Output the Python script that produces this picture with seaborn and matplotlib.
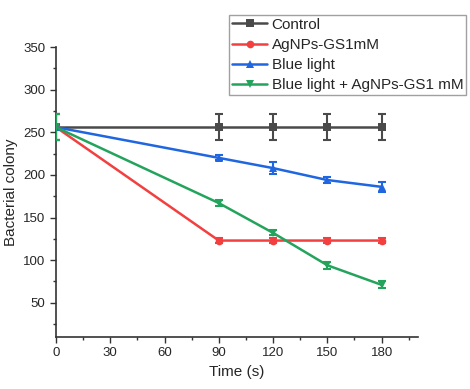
import seaborn as sns
import matplotlib.pyplot as plt
import pandas as pd
import numpy as np
from matplotlib.ticker import MultipleLocator

time = [0, 90, 120, 150, 180]
control = [256, 256, 256, 256, 256]
control_err = [15, 15, 15, 15, 15]
agnps = [256, 123, 123, 123, 123]
agnps_err = [15, 3, 3, 3, 3]
blue = [256, 220, 208, 194, 186]
blue_err = [15, 3, 7, 4, 6]
combo = [256, 167, 132, 94, 71]
combo_err = [15, 3, 3, 4, 4]

labels = ["Control", "AgNPs-GS1mM", "Blue light", "Blue light + AgNPs-GS1 mM"]
colors = ["#4a4a4a", "#f24040", "#1f66e0", "#24a35c"]
markers = ["s", "o", "^", "v"]

rows = []
for lab, vals, errs in zip(labels, [control, agnps, blue, combo],
                           [control_err, agnps_err, blue_err, combo_err]):
    for t, v, e in zip(time, vals, errs):
        rows.append({"time": t, "value": v, "err": e, "group": lab})
df = pd.DataFrame(rows)

sns.set_theme(style="ticks")
plt.rcParams["font.family"] = ["Liberation Sans", "DejaVu Sans"]

fig = plt.figure(figsize=(4.7, 3.89), dpi=100)
ax = fig.add_axes([0.119, 0.134, 0.77, 0.745])

sns.lineplot(data=df, x="time", y="value", hue="group", style="group",
             palette=colors, markers=markers, dashes=False, linewidth=1.8,
             markersize=5.5, markeredgewidth=0, ax=ax, legend=True)
for lab, c in zip(labels, colors):
    d = df[df.group == lab]
    ax.errorbar(d.time, d.value, yerr=d.err, fmt="none", ecolor=c,
                elinewidth=1.5, capsize=3, capthick=1.5, zorder=3)

ax.set_xlim(0, 200)
ax.set_ylim(10, 350)
ax.set_xticks([0, 30, 60, 90, 120, 150, 180])
ax.set_yticks([50, 100, 150, 200, 250, 300, 350])
ax.xaxis.set_minor_locator(MultipleLocator(15))
ax.yaxis.set_minor_locator(MultipleLocator(25))
ax.tick_params(axis="both", which="major", labelsize=9.5, length=4, width=1, color="#333333")
ax.tick_params(axis="both", which="minor", length=2, width=1, color="#333333")
for s in ["left", "bottom"]:
    ax.spines[s].set_linewidth(1.2)
    ax.spines[s].set_color("#333333")
sns.despine(ax=ax)
ax.set_xlabel("Time (s)", fontsize=11)
ax.set_ylabel("Bacterial colony", fontsize=11)

handles, _ = ax.get_legend_handles_labels()
ax.get_legend().remove()
fig.legend(handles, labels, loc="upper left", bbox_to_anchor=(0.487, 0.962),
           frameon=True, fancybox=False, edgecolor="#888888", fontsize=11,
           handlelength=2.3, handletextpad=0.3, borderpad=0.2,
           labelspacing=0.4, borderaxespad=0)

fig.savefig("out.png", dpi=100)
